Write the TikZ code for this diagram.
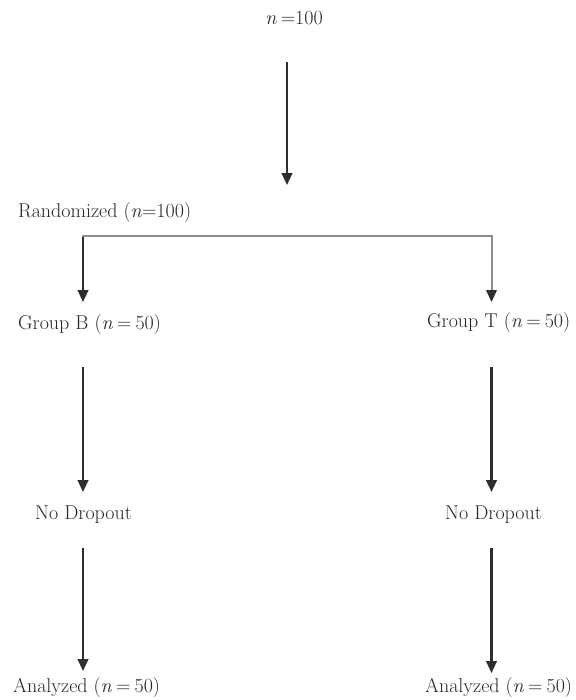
\documentclass[tikz,border=0pt]{standalone}
\usetikzlibrary{arrows.meta,positioning,calc}
\definecolor{ink}{HTML}{262626}
\definecolor{shaft}{HTML}{2E2E2E}
\definecolor{rule}{HTML}{8C8C8C}
\tikzset{
  lbl/.style={anchor=west, inner sep=0pt, text height=14.5pt, text depth=5pt,
              font=\fontsize{20}{24}\selectfont, text=ink},
  fl/.style={-{Triangle[length=12pt,width=10.5pt]}, draw=shaft, line width=2.4pt},
  flg/.style={-{Triangle[length=12pt,width=10.5pt,color=shaft]}, draw=rule, line width=2pt},
  split/.style={draw=rule, line width=1.8pt},
}
\newcommand{\nn}{\textit{n}}
\newcommand{\nis}{\hspace{.2em}=\hspace{.2em}}

\begin{document}
\begin{tikzpicture}[x=1pt, y=-1pt]
\useasboundingbox (0,0) rectangle (575,700);

% =====================================================================
\coordinate (colM) at (287,0);
\coordinate (colB) at (83,0);
\coordinate (colT) at (491.5,0);

\node[lbl, anchor=center] (top) at (294,20) {\nn\hspace{.2em}=100};
\node[lbl] (rand) at (18,213) {Randomized (\nn=100)};

\node[lbl] (grpB)  at (18,325)  {Group B (\nn\nis50)};
\node[lbl] (grpT)  at (427,323) {Group T (\nn\nis50)};
\node[lbl] (dropB) at (35,515)  {No Dropout};
\node[lbl] (dropT) at (445,515) {No Dropout};
\node[lbl] (anaB)  at (13,688)  {Analyzed (\nn\nis50)};
\node[lbl] (anaT)  at (425,688) {Analyzed (\nn\nis50)};

% the one trunk
\draw[fl, shorten <=32pt, shorten >=18pt] (top.south -| colM) -- (rand.north -| colM);

% randomisation split
\coordinate (brB) at ($(rand.south -| colB)+(0,13)$);
\coordinate (brT) at ($(rand.south -| colT)+(0,13)$);
\draw[split] ([xshift=-1.2pt]brB) -- ([xshift=1pt]brT);
\draw[fl]  ([yshift=-1.2pt]brB) -- (grpB.north -| colB) [shorten >=13pt];
\draw[flg] ([yshift=-0.9pt]brT) -- (grpT.north -| colT) [shorten >=11pt];

% the two arms
\foreach \a/\b/\c/\s/\e in {grpB/dropB/colB/32/13, grpT/dropT/colT/34/13,
                            dropB/anaB/colB/23/7, dropT/anaT/colT/23/5}
  \draw[fl, shorten <=\s pt, shorten >=\e pt] (\a.south -| \c) -- (\b.north -| \c);

\end{tikzpicture}
\end{document}
